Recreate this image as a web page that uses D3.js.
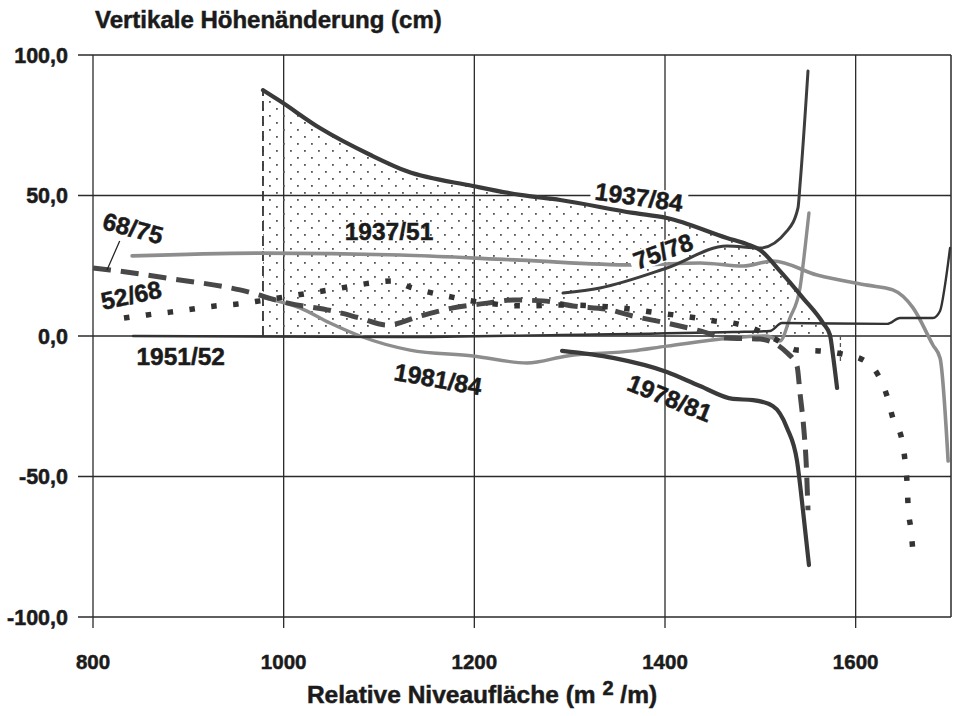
<!DOCTYPE html>
<html><head><meta charset="utf-8">
<script src="https://cdn.jsdelivr.net/npm/d3@7"></script>
<style>body{margin:0;background:#fff}svg{display:block}text{font-family:"Liberation Sans",Arial,Helvetica,sans-serif;font-weight:bold;fill:#1b1b1b;stroke:#1b1b1b;stroke-width:0.5px}</style>
</head><body><svg id="c" width="957" height="716"></svg>
<script>
// ---- data (x = relative Niveaufläche m²/m, y = Höhenänderung cm) ----
const xTicks = [800, 1000, 1200, 1400, 1600];
const yTicks = [-100, -50, 0, 50, 100];
const yTickLabels = ["-100,0", "-50,0", "0,0", "50,0", "100,0"];

const s1937_84 = [[978.3,87.5],[996.2,83.6],[1038,74],[1090.6,64.5],[1129.4,58.6],[1198.6,53.4],[1248,50.2],[1290,48.4],[1366.5,43.8],[1402,42],[1465,34.9],[1486,32.7],[1499.7,30.6],[1520.7,23.1],[1544.8,13.5],[1565.8,4.6],[1573,0.4],[1576.3,-7.1],[1580.5,-18.5]];
const s1937_51_edge = [[978.3,0],[978.3,87.5]];
const s75_78 = [[1293,15.3],[1331.8,17.1],[1402,24.2],[1465,32],[1499.7,31.3],[1528,37.4],[1539.5,45.6],[1541.6,53.7],[1550,94.3]];
const s1978_81 = [[1292,-5.3],[1345.5,-7.8],[1402,-12.8],[1436.7,-17.8],[1471.4,-22.4],[1492.3,-22.8],[1513,-24.9],[1528,-32.7],[1538.5,-44.5],[1544.8,-62.3],[1551,-81.5]];
const s1951_52 = [[842,0],[1122,-0.4],[1290,0.4],[1471.4,1.4],[1510,1.8],[1522.7,4.6],[1633,4.3],[1646.5,6.4],[1681,6.4],[1688.5,8.9],[1693.7,18.1],[1699,31.3]];
const s68_75 = [[841,28.5],[978.3,29.5],[1122,28.8],[1248,27],[1366.5,25.3],[1437,26],[1482,24.9],[1513.3,26.7],[1559.5,21.7],[1612,18.1],[1639,16.4],[1660.2,10],[1681,-3.2],[1688.5,-7.8],[1697,-44.5]];
const s1981_84 = [[980.4,13.5],[1017,10],[1048.6,4.6],[1080,0],[1132.5,-5],[1198.6,-7.1],[1255.3,-9.6],[1297.2,-7.1],[1366.5,-5.3],[1402,-3.6],[1507,0],[1520.7,-1.8],[1531,6.4],[1541.6,17.1],[1546.9,31.3],[1551,43.8]];
const s52_68 = [[800,24.2],[817.8,23.5],[877.6,20.6],[954.2,16.4],[1004.6,11.7],[1051.8,8.9],[1080,6.4],[1108.4,3.9],[1143,7.1],[1177.6,10],[1213.3,11.7],[1240.6,12.8],[1272,12.5],[1303.5,10.7],[1342.3,9.3],[1366.5,7.1],[1402,4.6],[1437,1.8],[1465,-0.7],[1499.7,-1.1],[1528,-6],[1538.5,-10.7],[1541.6,-20.3],[1545.8,-33.8],[1548,-44.5],[1550,-62]];
const sDotted = [[832.5,6.4],[856.6,7.5],[880.8,8.5],[904.9,9.6],[928,10.7],[952,11.4],[975.2,12.5],[1014,14.6],[1053.9,16.7],[1092.7,18.9],[1113.7,19.6],[1132.5,17.4],[1171.3,14.2],[1213.3,11.7],[1253.2,10.7],[1293,11],[1352.8,10],[1392.6,8.2],[1433.6,6.4],[1452.5,5.3],[1471.4,4.6],[1491.3,2.8],[1515.4,-1.1],[1538.5,-5],[1561.6,-5.3],[1585.7,-6.4],[1607.7,-8.5],[1623.5,-13.9],[1632.9,-21.4],[1639,-29.2],[1648.6,-37],[1651.8,-44.5],[1653.9,-52.3],[1655,-60.5],[1658,-69],[1660.2,-77.2]];
const sDrop = [[1584,0],[1584,-10]];

// labels: text, x, y, rotation
const labelText = ["68/75","52/68","1951/52","1937/51","1937/84","75/78","1981/84","1978/81"];
const labelX    = [842, 840, 892, 1110.5, 1372.7, 1398, 1162, 1405];
const labelY    = [38.4, 14.6, -7.1, 37.4, 49.5, 30.2, -15.3, -22];
const labelRot  = [15, -12, 0, 0, 8, -20, 10, 22];
const labelBg   = [false,false,false,false,true,true,false,false];
const leader68_75 = [[828,33.8],[814.7,23.5]];

// ---- chart ----
const svg = d3.select("#c");
const x = d3.scaleLinear().domain([800,1700]).range([93,951]);
const y = d3.scaleLinear().domain([-100,100]).range([617,55]);
const gridC = "#2a2a2a";

// grid + frame
const g = svg.append("g");
yTicks.forEach(v=>{
  g.append("line").attr("x1",78).attr("x2",x(1700)).attr("y1",y(v)).attr("y2",y(v))
   .attr("stroke",gridC).attr("stroke-width",1.3);
});
xTicks.forEach(v=>{
  g.append("line").attr("x1",x(v)).attr("x2",x(v)).attr("y1",y(100)).attr("y2",y(-100)+11)
   .attr("stroke",gridC).attr("stroke-width",1.3);
});
g.append("line").attr("x1",x(1700)).attr("x2",x(1700)).attr("y1",y(100)).attr("y2",y(-100))
 .attr("stroke",gridC).attr("stroke-width",1.5);

// y tick labels
yTicks.forEach((v,i)=>{
  svg.append("text").attr("x",68).attr("y",y(v)).attr("dy","0.36em").attr("text-anchor","end")
    .attr("font-size",21.5).text(yTickLabels[i]);
});
xTicks.forEach(v=>{
  svg.append("text").attr("x",x(v)).attr("y",669).attr("text-anchor","middle")
    .attr("font-size",20.5).text(d3.format("d")(v));
});

// titles
svg.append("text").attr("x",95).attr("y",28).attr("font-size",24).text("Vertikale Höhenänderung (cm)");
const xt = svg.append("text").attr("x",482).attr("y",703).attr("text-anchor","middle").attr("font-size",24.5);
xt.append("tspan").text("Relative Niveaufläche (m ");
xt.append("tspan").attr("dy",-8).attr("font-size",20).text("2");
xt.append("tspan").attr("dy",8).text(" /m)");

// stipple pattern
const defs = svg.append("defs");
const pat = defs.append("pattern").attr("id","stip").attr("patternUnits","userSpaceOnUse")
  .attr("width",14).attr("height",14);
pat.append("rect").attr("x",3).attr("y",3).attr("width",1.8).attr("height",1.8).attr("fill","#555");
pat.append("rect").attr("x",10).attr("y",10).attr("width",1.8).attr("height",1.8).attr("fill","#555");
defs.append("clipPath").attr("id","above0").append("rect")
  .attr("x",x(800)).attr("y",y(100)).attr("width",x(1700)-x(800)).attr("height",y(0)-y(100));

const curve = d3.curveMonotoneX;
const area = d3.area().x(d=>x(d[0])).y0(y(0)).y1(d=>y(d[1])).curve(curve);
svg.append("path").datum(s1937_84).attr("d",area).attr("fill","url(#stip)").attr("clip-path","url(#above0)");

const line = d3.line().x(d=>x(d[0])).y(d=>y(d[1])).curve(curve);
const lin = d3.line().x(d=>x(d[0])).y(d=>y(d[1]));
function draw(data, color, w, dash, cap, gen){
  const p = svg.append("path").datum(data).attr("d",(gen||line)).attr("fill","none")
   .attr("stroke",color).attr("stroke-width",w).attr("stroke-linejoin","round")
   .attr("stroke-linecap",cap||"round");
  if(dash) p.attr("stroke-dasharray",dash);
  return p;
}
draw(s1937_51_edge,"#333",1.8,"10,5","butt",lin);
draw(sDrop,"#555",1.3,"4,3","butt",lin);
draw(s68_75,"#8d8d8d",3.6);
draw(s1981_84,"#8d8d8d",3.4);
draw(s1951_52,"#333",2.4);
draw(s52_68,"#484848",5,"18,10","butt");
draw(sDotted,"#333",5.5,"5.5,16.5","butt");
draw(s75_78,"#3d3d3d",3);
draw(s1978_81,"#3a3a3a",4.2);
draw(s1937_84,"#3a3a3a",4.2);

// leader line
draw(leader68_75,"#222",1.3,null,"butt",lin);

// labels
labelText.forEach((t,i)=>{
  const gg = svg.append("g").attr("transform",`translate(${x(labelX[i])},${y(labelY[i])}) rotate(${labelRot[i]})`);
  const tx = gg.append("text").attr("text-anchor","middle").attr("dy","0.36em").attr("font-size",24.5).text(t);
  if(labelBg[i]){
    const b = tx.node().getBBox();
    gg.insert("rect","text").attr("x",b.x-4).attr("y",b.y+3).attr("width",b.width+8).attr("height",b.height-6).attr("fill","#fff");
  }
});
</script></body></html>
